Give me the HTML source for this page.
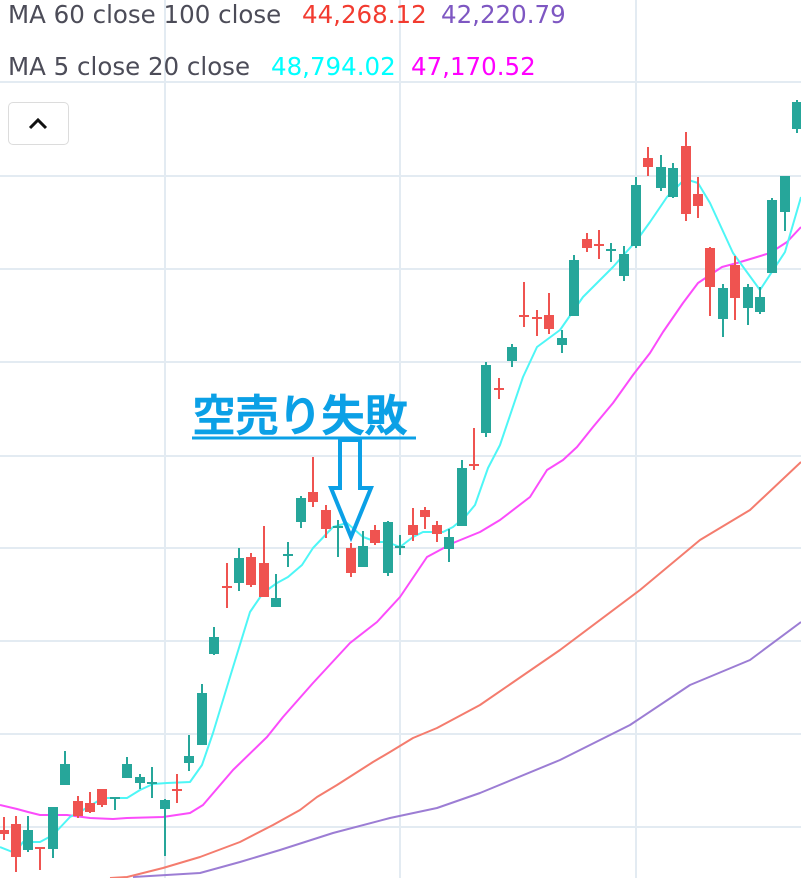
<!DOCTYPE html>
<html><head><meta charset="utf-8"><style>
html,body{margin:0;padding:0;background:#fff;}
body{width:801px;height:878px;overflow:hidden;position:relative;font-family:"DejaVu Sans","Liberation Sans",sans-serif;}
.leg{position:absolute;font-size:24.5px;color:#4c4c58;white-space:pre;line-height:28px;}
.btn{position:absolute;left:8px;top:102px;width:59px;height:41px;border:1px solid #dcdcdc;border-radius:5px;background:#fff;}
.ann{position:absolute;left:192px;top:384px;font-family:"Noto Sans CJK JP",sans-serif;font-weight:bold;font-size:44px;color:#0ba0e6;line-height:56px;letter-spacing:-1px;}
</style></head><body>
<svg width="801" height="878" style="position:absolute;left:0;top:0">
<g stroke="#e3ebf2" stroke-width="2">
<line x1="0" y1="82" x2="801" y2="82"/><line x1="0" y1="176" x2="801" y2="176"/><line x1="0" y1="269" x2="801" y2="269"/><line x1="0" y1="362" x2="801" y2="362"/><line x1="0" y1="456" x2="801" y2="456"/><line x1="0" y1="548" x2="801" y2="548"/><line x1="0" y1="641" x2="801" y2="641"/><line x1="0" y1="734" x2="801" y2="734"/><line x1="0" y1="827" x2="801" y2="827"/>
<line x1="165" y1="0" x2="165" y2="878"/><line x1="400" y1="0" x2="400" y2="878"/><line x1="636" y1="0" x2="636" y2="878"/>
</g>
<g fill="none" stroke-width="2" stroke-linejoin="round">
<polyline stroke="#9c7dd4" points="133,877 200,873 240,862 280,850 333,833 390,818 437,808 480,793 560,760 630,725 690,685 750,660 801,622"/>
<polyline stroke="#f47c6e" points="110,878 127,877 163,868 200,857 240,842 273,825 300,810 317,797 337,785 373,762 390,752 413,738 437,728 480,705 560,650 640,590 700,540 750,510 801,462"/>
<polyline stroke="#fb4cfb" points="0,805 17,809 28,812 40,815 67,815 90,818 113,819 127,818 163,817 190,813 203,805 233,770 267,737 283,717 313,683 350,643 377,622 400,597 427,557 453,543 480,532 500,520 530,497 547,470 563,460 577,447 593,427 613,403 633,375 650,353 663,332 683,303 698,283 722,267 737,263 757,257 770,253 787,242 801,227"/>
<polyline stroke="#4ef6f6" points="0,847 15,853 23,842 40,842 53,835 70,817 83,810 103,798 127,798 140,790 153,784 167,783 190,782 202,765 213,733 230,677 250,612 263,593 277,583 288,577 302,565 313,548 333,527 347,523 363,537 377,542 387,542 400,547 413,537 423,532 443,532 453,527 465,517 475,505 488,468 500,445 523,377 537,347 560,330 583,297 613,267 637,240 650,222 667,197 685,179 698,183 710,203 733,253 760,290 785,252 801,197"/>
</g>
<g stroke-width="2">
<g stroke="#ef5350" fill="#ef5350">
<line x1="4" y1="817" x2="4" y2="840"/><rect x="-1" y="830" width="10" height="4" stroke="none"/>
<line x1="16" y1="816" x2="16" y2="872"/><rect x="11" y="824" width="10" height="33" stroke="none"/>
<line x1="40" y1="847" x2="40" y2="870"/><rect x="35" y="847" width="10" height="2" stroke="none"/>
<line x1="78" y1="796" x2="78" y2="818"/><rect x="73" y="801" width="10" height="15" stroke="none"/>
<line x1="90" y1="792" x2="90" y2="813"/><rect x="85" y="803" width="10" height="9" stroke="none"/>
<line x1="102" y1="789" x2="102" y2="807"/><rect x="97" y="789" width="10" height="16" stroke="none"/>
<line x1="177" y1="774" x2="177" y2="803"/><rect x="172" y="789" width="10" height="2" stroke="none"/>
<line x1="227" y1="563" x2="227" y2="608"/><rect x="222" y="586" width="10" height="2" stroke="none"/>
<line x1="251" y1="553" x2="251" y2="587"/><rect x="246" y="557" width="10" height="28" stroke="none"/>
<line x1="264" y1="526" x2="264" y2="597"/><rect x="259" y="563" width="10" height="34" stroke="none"/>
<line x1="313" y1="457" x2="313" y2="507"/><rect x="308" y="492" width="10" height="10" stroke="none"/>
<line x1="326" y1="505" x2="326" y2="538"/><rect x="321" y="510" width="10" height="19" stroke="none"/>
<line x1="351" y1="543" x2="351" y2="577"/><rect x="346" y="548" width="10" height="25" stroke="none"/>
<line x1="375" y1="525" x2="375" y2="545"/><rect x="370" y="530" width="10" height="13" stroke="none"/>
<line x1="413" y1="508" x2="413" y2="541"/><rect x="408" y="525" width="10" height="10" stroke="none"/>
<line x1="425" y1="507" x2="425" y2="529"/><rect x="420" y="510" width="10" height="7" stroke="none"/>
<line x1="437" y1="521" x2="437" y2="542"/><rect x="432" y="525" width="10" height="9" stroke="none"/>
<line x1="474" y1="428" x2="474" y2="470"/><rect x="469" y="464" width="10" height="2" stroke="none"/>
<line x1="499" y1="378" x2="499" y2="399"/><rect x="494" y="388" width="10" height="2" stroke="none"/>
<line x1="524" y1="282" x2="524" y2="327"/><rect x="519" y="315" width="10" height="2" stroke="none"/>
<line x1="537" y1="310" x2="537" y2="336"/><rect x="532" y="317" width="10" height="2" stroke="none"/>
<line x1="549" y1="293" x2="549" y2="334"/><rect x="544" y="315" width="10" height="14" stroke="none"/>
<line x1="587" y1="233" x2="587" y2="252"/><rect x="582" y="239" width="10" height="9" stroke="none"/>
<line x1="599" y1="230" x2="599" y2="259"/><rect x="594" y="244" width="10" height="2" stroke="none"/>
<line x1="648" y1="147" x2="648" y2="176"/><rect x="643" y="158" width="10" height="9" stroke="none"/>
<line x1="686" y1="132" x2="686" y2="221"/><rect x="681" y="146" width="10" height="68" stroke="none"/>
<line x1="698" y1="177" x2="698" y2="218"/><rect x="693" y="194" width="10" height="12" stroke="none"/>
<line x1="710" y1="247" x2="710" y2="316"/><rect x="705" y="248" width="10" height="39" stroke="none"/>
<line x1="735" y1="256" x2="735" y2="320"/><rect x="730" y="265" width="10" height="33" stroke="none"/>
</g>
<g stroke="#26a69a" fill="#26a69a">
<line x1="28" y1="816" x2="28" y2="852"/><rect x="23" y="830" width="10" height="20" stroke="none"/>
<line x1="53" y1="807" x2="53" y2="858"/><rect x="48" y="807" width="10" height="42" stroke="none"/>
<line x1="65" y1="751" x2="65" y2="785"/><rect x="60" y="764" width="10" height="21" stroke="none"/>
<line x1="115" y1="797" x2="115" y2="810"/><rect x="110" y="797" width="10" height="2" stroke="none"/>
<line x1="127" y1="757" x2="127" y2="778"/><rect x="122" y="764" width="10" height="14" stroke="none"/>
<line x1="140" y1="774" x2="140" y2="789"/><rect x="135" y="777" width="10" height="6" stroke="none"/>
<line x1="152" y1="767" x2="152" y2="798"/><rect x="147" y="782" width="10" height="2" stroke="none"/>
<line x1="165" y1="799" x2="165" y2="856"/><rect x="160" y="800" width="10" height="9" stroke="none"/>
<line x1="189" y1="735" x2="189" y2="771"/><rect x="184" y="756" width="10" height="7" stroke="none"/>
<line x1="202" y1="684" x2="202" y2="745"/><rect x="197" y="693" width="10" height="52" stroke="none"/>
<line x1="214" y1="627" x2="214" y2="655"/><rect x="209" y="637" width="10" height="17" stroke="none"/>
<line x1="239" y1="548" x2="239" y2="591"/><rect x="234" y="558" width="10" height="25" stroke="none"/>
<line x1="276" y1="574" x2="276" y2="607"/><rect x="271" y="598" width="10" height="9" stroke="none"/>
<line x1="288" y1="542" x2="288" y2="567"/><rect x="283" y="554" width="10" height="2" stroke="none"/>
<line x1="301" y1="496" x2="301" y2="528"/><rect x="296" y="498" width="10" height="24" stroke="none"/>
<line x1="338" y1="520" x2="338" y2="557"/><rect x="333" y="526" width="10" height="2" stroke="none"/>
<line x1="363" y1="531" x2="363" y2="567"/><rect x="358" y="546" width="10" height="21" stroke="none"/>
<line x1="388" y1="521" x2="388" y2="576"/><rect x="383" y="522" width="10" height="51" stroke="none"/>
<line x1="400" y1="535" x2="400" y2="555"/><rect x="395" y="546" width="10" height="2" stroke="none"/>
<line x1="449" y1="529" x2="449" y2="562"/><rect x="444" y="537" width="10" height="12" stroke="none"/>
<line x1="462" y1="460" x2="462" y2="526"/><rect x="457" y="468" width="10" height="58" stroke="none"/>
<line x1="486" y1="362" x2="486" y2="437"/><rect x="481" y="365" width="10" height="68" stroke="none"/>
<line x1="512" y1="344" x2="512" y2="367"/><rect x="507" y="347" width="10" height="14" stroke="none"/>
<line x1="562" y1="330" x2="562" y2="353"/><rect x="557" y="338" width="10" height="7" stroke="none"/>
<line x1="574" y1="255" x2="574" y2="316"/><rect x="569" y="260" width="10" height="56" stroke="none"/>
<line x1="611" y1="243" x2="611" y2="262"/><rect x="606" y="249" width="10" height="2" stroke="none"/>
<line x1="624" y1="246" x2="624" y2="281"/><rect x="619" y="254" width="10" height="22" stroke="none"/>
<line x1="636" y1="177" x2="636" y2="248"/><rect x="631" y="185" width="10" height="61" stroke="none"/>
<line x1="661" y1="155" x2="661" y2="191"/><rect x="656" y="167" width="10" height="21" stroke="none"/>
<line x1="673" y1="163" x2="673" y2="198"/><rect x="668" y="168" width="10" height="29" stroke="none"/>
<line x1="723" y1="284" x2="723" y2="337"/><rect x="718" y="288" width="10" height="31" stroke="none"/>
<line x1="748" y1="284" x2="748" y2="325"/><rect x="743" y="287" width="10" height="21" stroke="none"/>
<line x1="760" y1="287" x2="760" y2="314"/><rect x="755" y="297" width="10" height="15" stroke="none"/>
<line x1="772" y1="198" x2="772" y2="273"/><rect x="767" y="200" width="10" height="73" stroke="none"/>
<line x1="785" y1="176" x2="785" y2="231"/><rect x="780" y="176" width="10" height="36" stroke="none"/>
<line x1="797" y1="100" x2="797" y2="133"/><rect x="792" y="102" width="10" height="27" stroke="none"/>
</g>
</g>
<line x1="192" y1="438" x2="416" y2="438" stroke="#0ba0e6" stroke-width="3"/>
<polygon points="340,440 360,440 360,488 371,488 351,537 331,488 340,488" fill="none" stroke="#0ba0e6" stroke-width="4" stroke-linejoin="miter"/>
</svg>
<div class="leg" style="top:1px;left:8px">MA 60 close 100 close</div>
<div class="leg" style="top:1px;left:302px;color:#f23b30">44,268.12</div>
<div class="leg" style="top:1px;left:441px;color:#7e57c2">42,220.79</div>
<div class="leg" style="top:53px;left:8px">MA 5 close 20 close</div>
<div class="leg" style="top:53px;left:271px;color:#00ffff">48,794.02</div>
<div class="leg" style="top:53px;left:411px;color:#ff00ff">47,170.52</div>
<div class="btn"></div>
<svg width="801" height="878" style="position:absolute;left:0;top:0;pointer-events:none"><polyline points="30,128 38,120 46,128" fill="none" stroke="#111" stroke-width="3"/></svg>
<div class="ann">空売り失敗</div>
</body></html>
